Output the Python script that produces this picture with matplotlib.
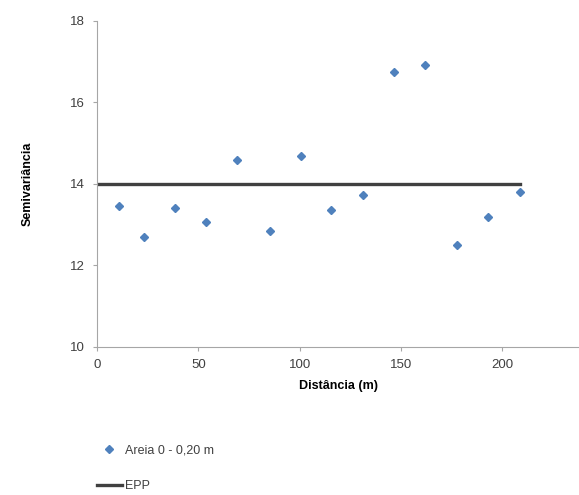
import matplotlib
matplotlib.use("Agg")
from matplotlib import pyplot as plt

plt.rcParams['font.family'] = ['Liberation Sans', 'DejaVu Sans']

# semivariogram points
distancia = [10.9, 23.3, 38.6, 54.0, 69.3, 85.6, 100.5, 115.3, 131.2, 146.5, 161.9, 177.7, 193.1, 208.9]
semivar = [13.46, 12.70, 13.41, 13.07, 14.59, 12.85, 14.69, 13.36, 13.73, 16.75, 16.92, 12.49, 13.19, 13.80]
epp_x = [0, 208.9]
epp_y = [14, 14]

fig = plt.figure(figsize=(5.79, 4.95), dpi=100)
ax = fig.add_axes([0.1675, 0.299, 0.833, 0.659])

pts, = ax.plot(distancia, semivar, "D", color="#4F81BD", markersize=4.5, label="Areia 0 - 0,20 m")
epp, = ax.plot(epp_x, epp_y, "-", color="#404040", linewidth=2.4, label="EPP")

ax.set_xlim(0, 238)
ax.set_ylim(10, 18)
ax.set_xticks([0, 50, 100, 150, 200])
ax.set_yticks([10, 12, 14, 16, 18])
for s in ["top", "right"]:
    ax.spines[s].set_visible(False)
for s in ["left", "bottom"]:
    ax.spines[s].set_color("#A6A6A6")
    ax.spines[s].set_linewidth(0.8)
ax.tick_params(direction="out", length=3, color="#A6A6A6", labelsize=9.5, labelcolor="#404040", pad=6)

ax.set_xlabel("Distância (m)", fontsize=9, fontweight="bold", labelpad=6)
ax.set_ylabel("Semivariância", fontsize=9, fontweight="bold", labelpad=26)

fig.legend(handles=[pts, epp], loc="upper left", bbox_to_anchor=(0.1675, 0.102),
           frameon=False, fontsize=9, labelspacing=1.9, handlelength=2.0,
           handletextpad=0.25, borderpad=0, borderaxespad=0, labelcolor="#404040")

fig.savefig("out.png", dpi=100)
